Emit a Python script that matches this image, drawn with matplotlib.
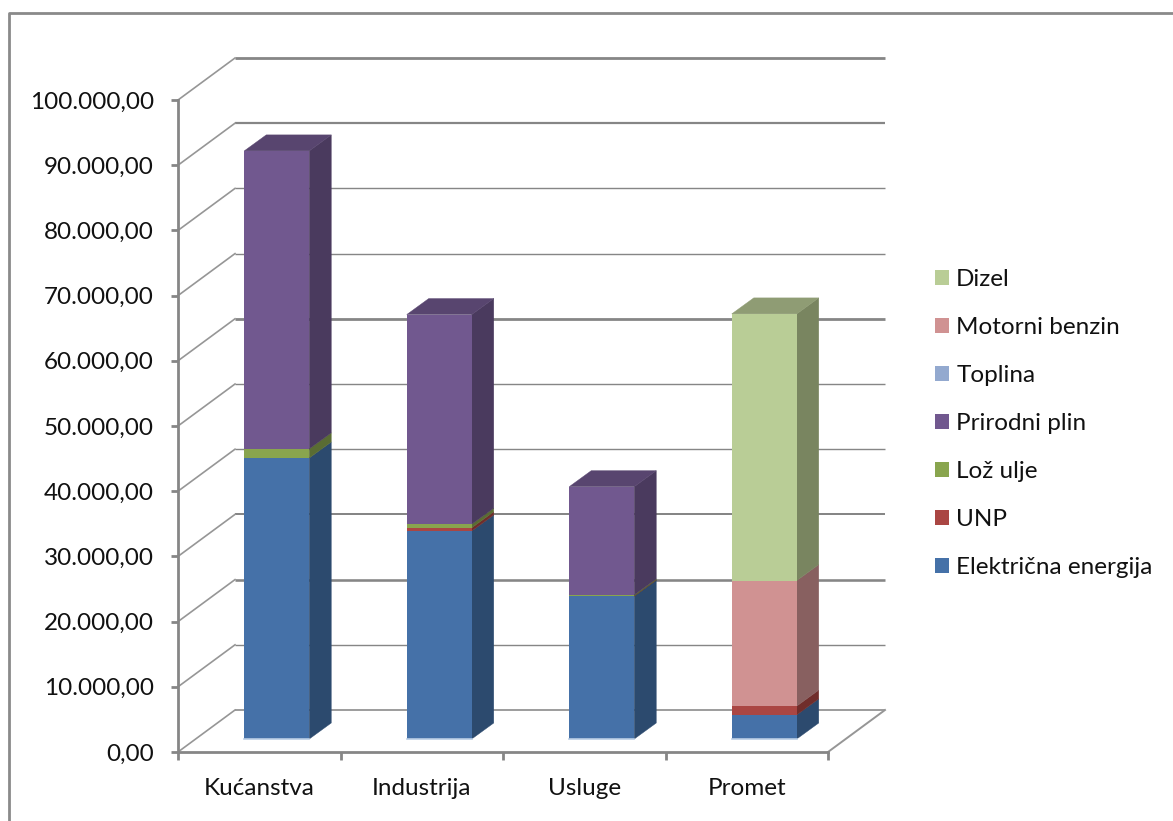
import matplotlib
matplotlib.use("Agg")
import matplotlib.pyplot as plt
from matplotlib.lines import Line2D
from matplotlib.patches import Patch

plt.rcParams['font.family'] = ['Lato', 'DejaVu Sans']

categories = ["Kućanstva", "Industrija", "Usluge", "Promet"]
elektricna = [43100, 31900, 21900, 3700]
unp = [0, 500, 50, 1350]
loz_ulje = [1400, 550, 150, 0]
prirodni_plin = [45700, 32150, 16600, 0]
toplina = [0, 0, 0, 0]
motorni_benzin = [0, 0, 0, 19250]
dizel = [0, 0, 0, 40900]

y_ticks = [0, 10000, 20000, 30000, 40000, 50000, 60000, 70000, 80000, 90000, 100000]
y_labels = ["0,00", "10.000,00", "20.000,00", "30.000,00", "40.000,00", "50.000,00",
            "60.000,00", "70.000,00", "80.000,00", "90.000,00", "100.000,00"]

# name, values, front, side, top
series = [
    ("Električna energija", elektricna, "#4571A8", "#2C4A6E", "#3A5F8D"),
    ("UNP", unp, "#AA4643", "#702D2B", "#8C3A37"),
    ("Lož ulje", loz_ulje, "#89A54E", "#5A6C33", "#718840"),
    ("Prirodni plin", prirodni_plin, "#71588F", "#4A3A5E", "#58456F"),
    ("Toplina", toplina, "#93A9CF", "#617088", "#7A8CAB"),
    ("Motorni benzin", motorni_benzin, "#D09292", "#886060", "#AC7979"),
    ("Dizel", dizel, "#B9CD96", "#798560", "#8F9C74"),
]

W, H = 1173, 821
GRID = "#868686"
TEXT = "#111111"
FS = 17.5

fig = plt.figure(figsize=(W / 100, H / 100), dpi=100)
ax = fig.add_axes([178 / W, (H - 752) / H, 650 / W, 652 / H])
ax.set_xlim(0, 4)
ax.set_ylim(0, 100000)
ax.patch.set_alpha(0)

# pixel sizes to data units for the oblique depth
px_x = 4 / 650
px_y = 100000 / 652


def depth(x, y, dx_px, dy_px):
    return x + dx_px * px_x, y + dy_px * px_y


# back wall and floor lines; widths differ a little from line to line
grid_widths = [1.6, 1.4, 2.6, 2.0, 1.4, 1.4, 2.8, 1.4, 1.4, 2.2, 2.8]
for v, lw in zip(y_ticks, grid_widths):
    x0, y0 = depth(0, v, 57, 42)
    x1, y1 = depth(4, v, 57, 42)
    ax.plot([x0, x1], [y0, y1], color=GRID, lw=lw * 0.72, clip_on=False, zorder=1,
            solid_capstyle="butt")
    ax.plot([0, x0], [v, y0], color="#969696", lw=1.2, clip_on=False, zorder=1)
xr, yr = depth(4, 0, 57, 42)
ax.plot([4, xr], [0, yr], color="#969696", lw=1.4, clip_on=False, zorder=1)

# stacked boxes: front sits 13 px behind the axis plane, 16 px deep
bar_w = 65 * px_x
for i in range(len(categories)):
    left, base = depth(i + 0.5 - bar_w / 2, 0, 17.5, 13)
    right = left + bar_w
    b = base
    for k, (name, vals, front, side, top) in enumerate(series):
        v = vals[i]
        if v <= 0:
            continue
        t = b + v
        xs, ys = depth(right, b, 22, 16)
        xt, yt = depth(right, t, 22, 16)
        ax.fill([right, xs, xt, right], [b, ys, yt, t], color=side, lw=0.3,
                clip_on=False, zorder=3)
        ax.fill([left, right, right, left], [b, b, t, t], color=front, lw=0,
                clip_on=False, zorder=4)
        b = t
        top_color = top
    xa, ya = depth(left, b, 22, 16)
    xb, yb = depth(right, b, 22, 16)
    ax.fill([left, right, xb, xa], [b, b, yb, ya], color=top_color, lw=0.3,
            clip_on=False, zorder=3)
    ax.plot([left, right], [base, base], color="#B9CDE5", lw=1.2, clip_on=False, zorder=5)

for s in ("top", "right"):
    ax.spines[s].set_visible(False)
for s in ("left", "bottom"):
    ax.spines[s].set_color(GRID)
    ax.spines[s].set_linewidth(2.0)
    ax.spines[s].set_zorder(2)

ax.set_yticks(y_ticks)
ax.set_yticklabels(y_labels, fontsize=FS, color=TEXT)
ax.tick_params(axis="y", length=5, width=2.0, color=GRID, pad=12.5)
ax.set_xticks(range(5))
ax.set_xticklabels([])
ax.tick_params(axis="x", length=6, width=2.0, color=GRID)
ax.set_xticks([i + 0.5 for i in range(4)], minor=True)
ax.set_xticklabels(categories, minor=True, fontsize=FS, color=TEXT)
ax.tick_params(axis="x", which="minor", length=0, pad=18.5)

# legend runs top to bottom in reverse stacking order
handles = [Patch(facecolor=s[2], edgecolor="none", label=s[0]) for s in series[::-1]]
leg = fig.legend(handles=handles, loc="upper left", bbox_to_anchor=(928 / W, (H - 262) / H),
                 frameon=False, fontsize=FS, labelcolor=TEXT, labelspacing=1.11,
                 handlelength=0.57, handleheight=0.57, handletextpad=0.29,
                 borderaxespad=0, borderpad=0.3)

# chart area border, open towards the right and bottom
fig.add_artist(Line2D([9 / W, 9 / W, 1], [0, (H - 13) / H, (H - 13) / H],
                      transform=fig.transFigure, color="#8A8A8A", lw=2.0))

fig.savefig("out.png", dpi=100)
